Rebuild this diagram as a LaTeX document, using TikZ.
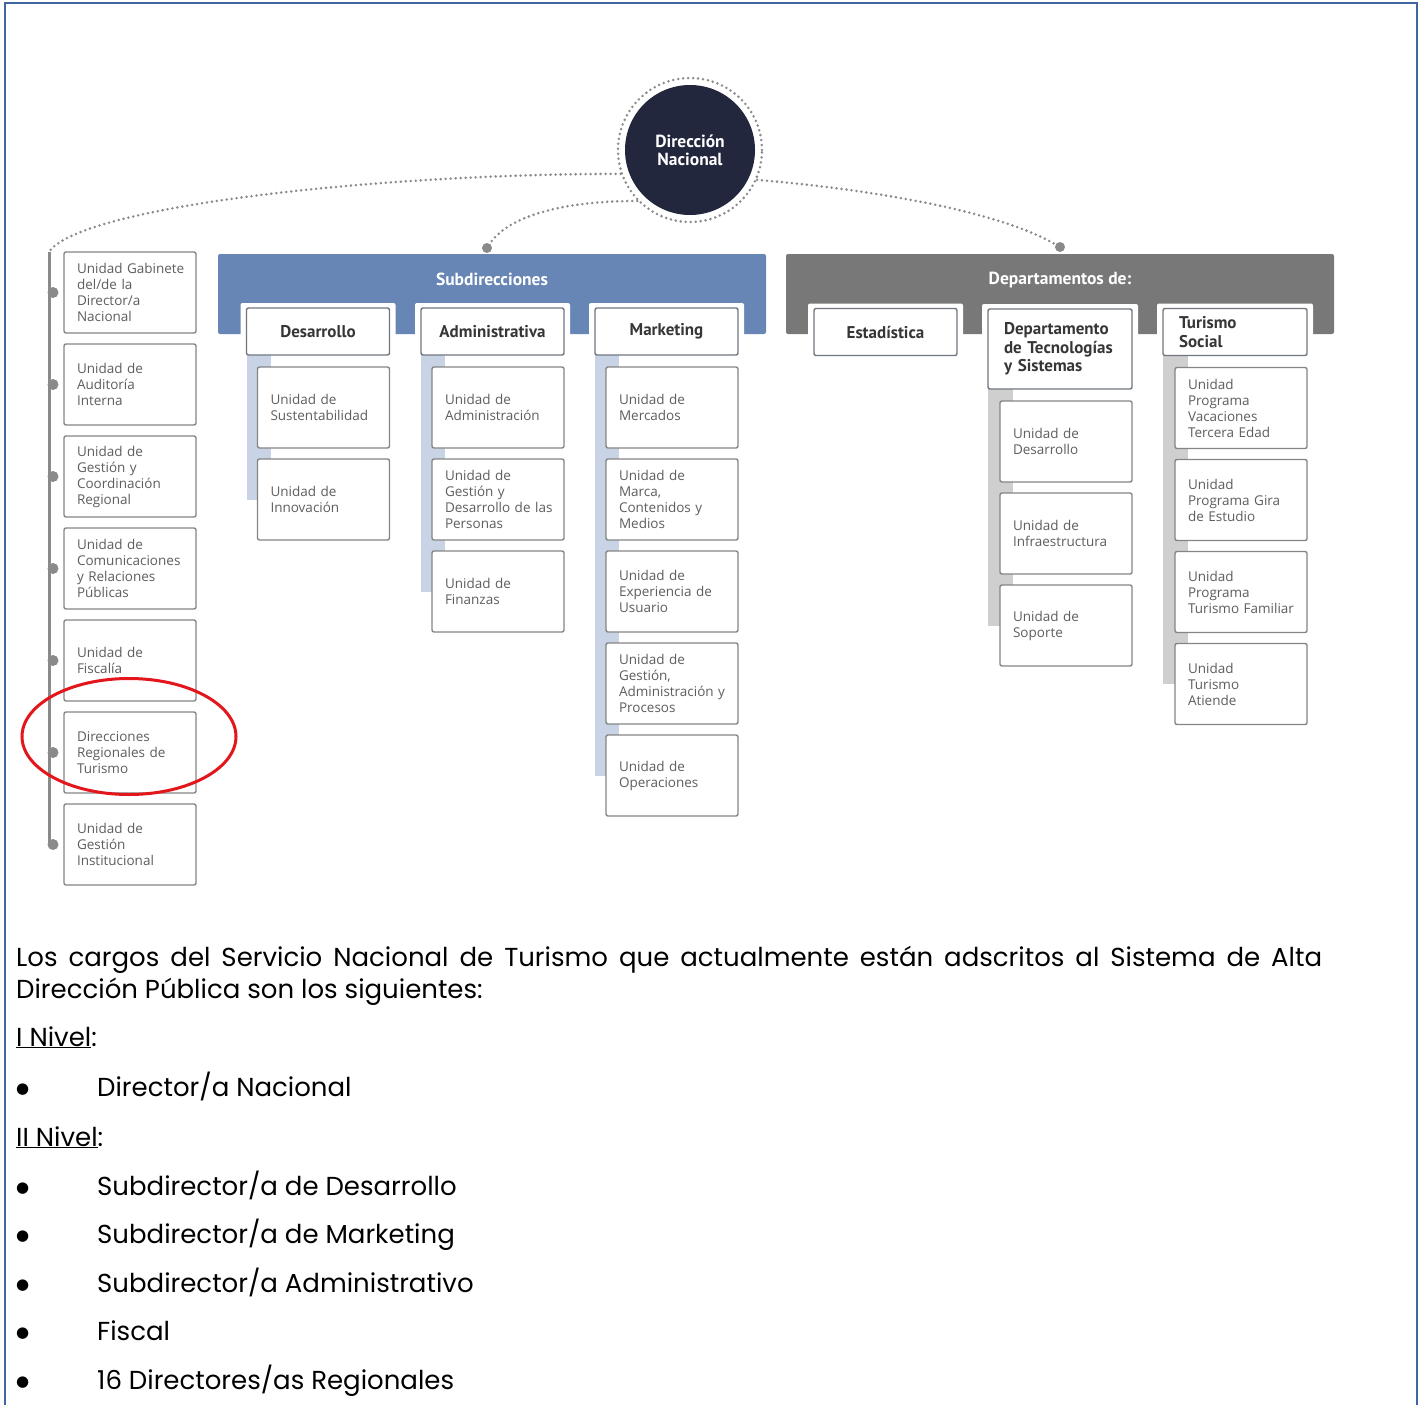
\documentclass[tikz,border=0pt]{standalone}
\usepackage{fontspec}
\setmainfont{Poppins}
\newfontfamily\unitfont{Open Sans}
\newfontfamily\headfont{PT Sans}
\newfontfamily\symfont{DejaVu Sans}
\usetikzlibrary{positioning}
\pgfdeclarelayer{panels}
\pgfdeclarelayer{bars}
\pgfsetlayers{panels,bars,main}
\definecolor{navy}{HTML}{23273D}
\definecolor{subBlue}{HTML}{6786B6}
\definecolor{depGray}{HTML}{787878}
\definecolor{barBlue}{HTML}{C8D4E6}
\definecolor{barGray}{HTML}{CFCFCF}
\definecolor{boxLine}{HTML}{858585}
\definecolor{hdrLine}{HTML}{707680}
\definecolor{unitText}{HTML}{5E5E5E}
\definecolor{hdrText}{HTML}{363636}
\definecolor{dotGray}{HTML}{8A8A8A}
\definecolor{frameBlue}{HTML}{3F66A3}
\definecolor{ringRed}{HTML}{E3161B}
\newcommand{\itemdot}{\makebox[81pt][l]{\raisebox{3pt}{\symfont\fontsize{15}{15}\selectfont ●}}}
\tikzset{
	% boxes of the units
	unit/.style={
		rectangle, rounded corners=2pt,
		draw=boxLine, line width=1.4pt, fill=white,
		text width=126pt, inner xsep=3pt, inner ysep=0pt, outer sep=0pt,
		minimum height=81pt, align=left,
		font=\unitfont\fontsize{13.5}{16}\selectfont, text=unitText,
		execute at begin node={\leftskip=10pt}},
	% boxes of the heads
	hdr/.style={
		rectangle, rounded corners=2pt,
		draw=hdrLine, line width=1.4pt, fill=white, outer sep=0pt,
		minimum width=143pt, minimum height=47pt, align=center,
		font=\headfont\bfseries\fontsize{17}{18.5}\selectfont, text=hdrText},
	hdrLeft/.style={text width=120pt, inner xsep=12pt, align=left, execute at begin node={\leftskip=4pt}},
	% coloured bands
	panel/.style={rectangle, rounded corners=2pt, minimum width=548pt, minimum height=80pt, inner sep=0pt},
	panelTitle/.style={text=white, font=\headfont\bfseries\fontsize{17.5}{18}\selectfont},
	% dotted links
	link/.style={draw=dotGray, line width=2.8pt, line cap=round, dash pattern=on 0pt off 5pt},
	dot/.style={circle, fill=dotGray, inner sep=0pt, minimum size=10pt},
	% text under the chart
	para/.style={anchor=base west, inner sep=0pt, font=\fontsize{26}{32}\selectfont}
}

\begin{document}
\begin{tikzpicture}[x=1pt,y=-1pt]
	\useasboundingbox (0,0) rectangle (1419,1405);
	
	% frame
	\draw[frameBlue, line width=2.6pt] (5,1405) -- (5,3) -- (1417,3) -- (1417,1405);
	
	% national direction
	\node[circle, fill=navy, minimum size=130pt, inner sep=0pt, text=white, align=center, font=\headfont\bfseries\fontsize{17.5}{18}\selectfont] (dirNac) at (690,150) {Dirección\\Nacional};
	\node[circle, link, minimum size=144pt] (ring) at (dirNac) {};
	
	% bands
	\begin{pgfonlayer}{panels}
		\node[panel, fill=subBlue] (subPanel) at (492,294) {};
		\node[panel, fill=depGray] (depPanel) at (1060,294) {};
	\end{pgfonlayer}
	\node[panelTitle] at ([yshift=-26pt]subPanel.north) {Subdirecciones};
	\node[panelTitle] at ([yshift=-26pt]depPanel.north) {Departamentos de:};
	
	\node[dot] (subDot) at (487,248) {};
	\node[dot] (depDot) at (1060,247) {};
	\coordinate (leftTop) at (49,252);
	
	\draw[link] (ring.199) .. controls +(-250,0) and +(30,-45) .. (leftTop);
	\draw[link] (ring.224) .. controls +(-80,0) and +(20,-30) .. (subDot);
	\draw[link] (ring.336) .. controls +(120,10) and +(-60,-35) .. (depDot);
	
	% heads
	\node[hdr] (desHd) at (318,331.5) {Desarrollo};
	\node[hdr] (admHd) at (492.5,331.5) {Administrativa};
	\node[hdr] (mktHd) at (666.5,331.5) {Marketing};
	\node[hdr] (estHd) at (885.5,332) {Estadística};
	\node[hdr, hdrLeft, minimum height=80pt] (tecHd) at (1060,349) {Departamento\\de Tecnologías\\y Sistemas};
	\node[hdr, hdrLeft] (tsoHd) at (1235,332) {Turismo\\Social};
	
	% units
	\node[unit, below left=12pt and 0pt of desHd.south east] (desU1) {Unidad de\\Sustentabilidad};
	\node[unit, below=11pt of desU1] (desU2) {Unidad de\\Innovación};
	
	\node[unit, below left=12pt and 0pt of admHd.south east] (admU1) {Unidad de\\Administración};
	\node[unit, below=11pt of admU1] (admU2) {Unidad de\\Gestión y\\Desarrollo de las\\Personas};
	\node[unit, below=11pt of admU2] (admU3) {Unidad de\\Finanzas};
	
	\node[unit, below left=12pt and 0pt of mktHd.south east] (mktU1) {Unidad de\\Mercados};
	\node[unit, below=11pt of mktU1] (mktU2) {Unidad de\\Marca,\\Contenidos y\\Medios};
	\node[unit, below=11pt of mktU2] (mktU3) {Unidad de\\Experiencia de\\Usuario};
	\node[unit, below=11pt of mktU3] (mktU4) {Unidad de\\Gestión,\\Administración y\\Procesos};
	\node[unit, below=11pt of mktU4] (mktU5) {Unidad de\\Operaciones};
	
	\node[unit, below left=12pt and 0pt of tecHd.south east] (tecU1) {Unidad de\\Desarrollo};
	\node[unit, below=11pt of tecU1] (tecU2) {Unidad de\\Infraestructura};
	\node[unit, below=11pt of tecU2] (tecU3) {Unidad de\\Soporte};
	
	\node[unit, below left=12pt and 0pt of tsoHd.south east] (tsoU1) {Unidad\\Programa\\Vacaciones\\Tercera Edad};
	\node[unit, below=11pt of tsoU1] (tsoU2) {Unidad\\Programa Gira\\de Estudio};
	\node[unit, below=11pt of tsoU2] (tsoU3) {Unidad\\Programa\\Turismo Familiar};
	\node[unit, below=11pt of tsoU3] (tsoU4) {Unidad\\Turismo\\Atiende};
	
	% left column
	\node[unit, anchor=north west] (gab) at (64,252) {Unidad Gabinete\\del/de la\\Director/a\\Nacional};
	\node[unit, below=11pt of gab] (aud) {Unidad de\\Auditoría\\Interna};
	\node[unit, below=11pt of aud] (gcr) {Unidad de\\Gestión y\\Coordinación\\Regional};
	\node[unit, below=11pt of gcr] (com) {Unidad de\\Comunicaciones\\y Relaciones\\Públicas};
	\node[unit, below=11pt of com] (fis) {Unidad de\\Fiscalía};
	\node[unit, below=11pt of fis] (dirReg) {Direcciones\\Regionales de\\Turismo};
	\node[unit, below=11pt of dirReg] (ugi) {Unidad de\\Gestión\\Institucional};
	
	\draw[dotGray, line width=3pt] (leftTop) -- (leftTop |- ugi.west);
	\foreach \b in {gab,aud,gcr,com,fis,dirReg,ugi}
		\fill[dotGray] ([xshift=-11pt]\b.west) circle (5.5pt);
	
	% red mark
	\draw[ringRed, line width=3pt] ([shift={(-1,-16)}]dirReg.center) ellipse (107pt and 58pt);
	
	% notches and bars
	\begin{pgfonlayer}{bars}
		\foreach \h in {desHd,admHd,mktHd,estHd,tecHd,tsoHd}
			\fill[white, rounded corners=2pt] ([shift={(-6,-5)}]\h.north west) rectangle ([xshift=6pt]\h.south east);
		\fill[barBlue] (desHd.south west) rectangle ([xshift=13pt]desU2.west);
		\fill[barBlue] (admHd.south west) rectangle ([xshift=13pt]admU3.west);
		\fill[barBlue] (mktHd.south west) rectangle ([xshift=13pt]mktU5.west);
		\fill[barGray] (tecHd.south west) rectangle ([xshift=13pt]tecU3.west);
		\fill[barGray] (tsoHd.south west) rectangle ([xshift=13pt]tsoU4.west);
	\end{pgfonlayer}
	
	% text
	\node[para, text width=1306pt, align=justify] (intro) at (16,966) {Los cargos del Servicio Nacional de Turismo que actualmente están adscritos al Sistema de Alta\linebreak Dirección Pública son los siguientes:};
	\node[para] (lvlOne) at (16,1046) {\underline{I Nivel}:};
	\node[para] (itDir) at (16,1096) {\itemdot Director/a Nacional};
	\node[para] (lvlTwo) at (16,1146) {\underline{II Nivel}:};
	\node[para] (itDes) at (16,1195) {\itemdot Subdirector/a de Desarrollo};
	\node[para] (itMkt) at (16,1243) {\itemdot Subdirector/a de Marketing};
	\node[para] (itAdm) at (16,1292) {\itemdot Subdirector/a Administrativo};
	\node[para] (itFis) at (16,1340) {\itemdot Fiscal};
	\node[para] (itReg) at (16,1389) {\itemdot 16 Directores/as Regionales};
	
\end{tikzpicture}
\end{document}
